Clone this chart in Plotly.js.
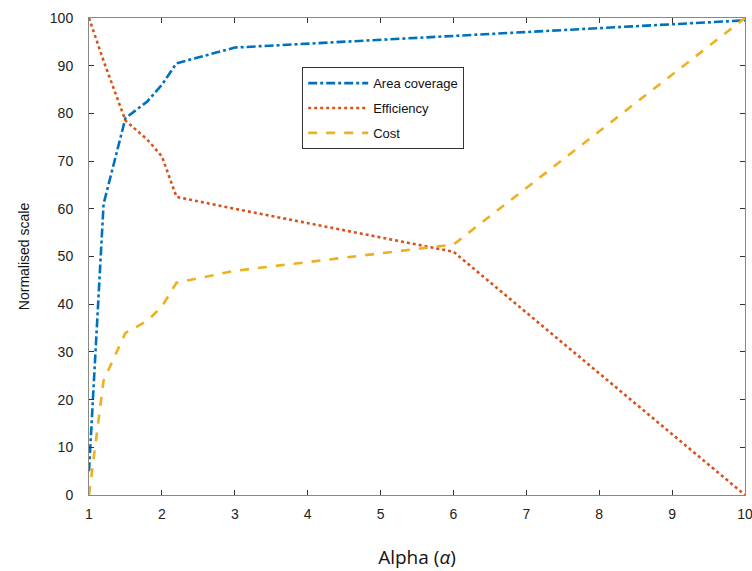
<!DOCTYPE html>
<html>
<head>
<meta charset="utf-8">
<script src="https://cdn.plot.ly/plotly-3.0.1.min.js"></script>
<style>html,body{margin:0;padding:0;background:#fff;}#chart{width:752px;height:571px;}</style>
</head>
<body>
<div id="chart"></div>
<script>
var alphaX = [1, 1.2, 1.5, 1.8, 2, 2.2, 3, 6, 10];
var areaCoverage = [5, 61, 79, 82.5, 86, 90.5, 93.8, 96.3, 99.5];
var efficiency = [100, 91, 78.5, 74.5, 71, 62.5, 60, 51, 0];
var cost = [0, 24, 34, 36.5, 39.5, 44.5, 47, 52.5, 100];
var xTicks = [1,2,3,4,5,6,7,8,9,10];
var yTicks = [0,10,20,30,40,50,60,70,80,90,100];

var traces = [
  {x: alphaX, y: areaCoverage, name: 'Area coverage', mode: 'lines', legendgroup: 'a',
   line: {color: '#0072BD', width: 2.6, dash: 'dashdot'}},
  {x: alphaX, y: efficiency, name: 'Efficiency', mode: 'lines', legendgroup: 'b',
   line: {color: '#D95319', width: 2.6, dash: 'dot'}},
  {x: alphaX, y: cost, name: 'Cost', mode: 'lines', legendgroup: 'c',
   line: {color: '#EDB120', width: 2.6, dash: 'dash'}}
];

var axisCommon = {
  showgrid: false, zeroline: false, showline: true, linecolor: '#888', linewidth: 1,
  mirror: 'ticks', ticks: 'inside', ticklen: 5, tickcolor: '#333', tickwidth: 1,
  ticklabelstandoff: 6, ticklabeloverflow: 'allow',
  tickfont: {family: 'Liberation Sans, Arial, sans-serif', size: 14, color: '#222'}
};

var layout = {
  width: 752, height: 571,
  margin: {l: 89, r: 7, t: 18, b: 76},
  paper_bgcolor: '#fff', plot_bgcolor: '#fff',
  showlegend: true,
  legend: {x: 0.325, y: 0.897, xanchor: 'left', yanchor: 'top',
    bordercolor: '#333', borderwidth: 1, bgcolor: '#fff',
    font: {family: 'Liberation Sans, Arial, sans-serif', size: 13, color: '#111'},
    itemwidth: 60, tracegroupgap: 5},
  xaxis: Object.assign({}, axisCommon, {
    range: [1, 10], tickvals: xTicks, ticktext: xTicks.map(String),
    title: {text: 'Alpha (<i>α</i>)', standoff: 29,
      font: {family: 'Open Sans, Liberation Sans, sans-serif', size: 19, color: '#111'}}
  }),
  yaxis: Object.assign({}, axisCommon, {
    range: [0, 100], tickvals: yTicks, ticktext: yTicks.map(String),
    ticklabelstandoff: 12,
    title: {text: 'Normalised scale', standoff: 16,
      font: {family: 'Liberation Sans, Arial, sans-serif', size: 14, color: '#111'}}
  })
};

Plotly.newPlot('chart', traces, layout, {displayModeBar: false, staticPlot: true});
</script>
</body>
</html>
